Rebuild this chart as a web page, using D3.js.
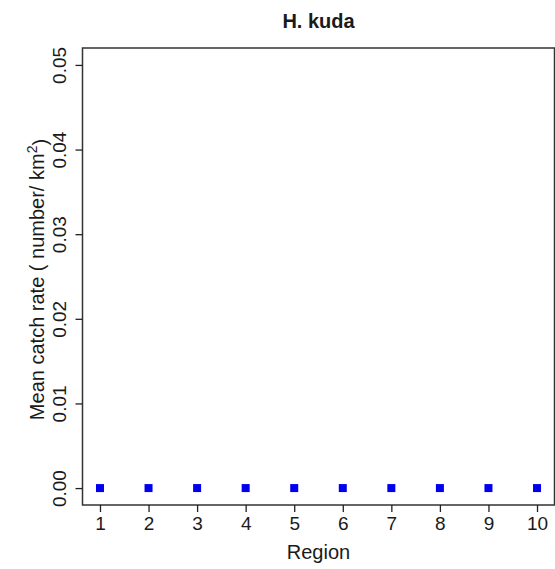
<!DOCTYPE html>
<meta charset="utf-8">
<style>
body { margin: 0; background: #fff; }
svg text { font-family: "Liberation Sans", Arial, sans-serif; fill: #1a1a1a; }
.axis path, .axis line { stroke: #222; stroke-width: 1.3px; }
</style>
<body>
<script src="https://cdn.jsdelivr.net/npm/d3@7"></script>
<script>

// data
var regions = [1, 2, 3, 4, 5, 6, 7, 8, 9, 10];
var catchRate = [0, 0, 0, 0, 0, 0, 0, 0, 0, 0];
var yTicks = [0, 0.01, 0.02, 0.03, 0.04, 0.05];
var title = "H. kuda";

var W = 555, H = 569;
var plotL = 82.5, plotR = 554.5, plotT = 48, plotB = 505;

// R style 4% padding on the ranges
var x = d3.scaleLinear().domain([0.64, 10.36]).range([plotL, plotR]);
var y = d3.scaleLinear().domain([-0.002, 0.052]).range([plotB, plotT]);

var svg = d3.select("body").append("svg")
    .attr("width", W)
    .attr("height", H);

// box round the plot
svg.append("rect")
    .attr("x", plotL).attr("y", plotT)
    .attr("width", plotR - plotL).attr("height", plotB - plotT)
    .attr("fill", "none")
    .attr("stroke", "#333")
    .attr("stroke-width", 1.5);

var xAxis = d3.axisBottom(x).tickValues(regions).tickSize(7).tickPadding(5).tickFormat(d3.format("d"));
var gx = svg.append("g")
    .attr("class", "axis")
    .attr("transform", "translate(0," + plotB + ")")
    .call(xAxis);
gx.select(".domain").remove();
gx.selectAll(".tick text").style("font-size", "19px").attr("dy", "0.71em");

var yAxis = d3.axisLeft(y).tickValues(yTicks).tickSize(7).tickFormat(d3.format(".2f"));
var gy = svg.append("g")
    .attr("class", "axis")
    .attr("transform", "translate(" + plotL + ",0)")
    .call(yAxis);
gy.select(".domain").remove();
gy.selectAll(".tick text")
    .style("font-size", "19px")
    .attr("x", null).attr("dy", null)
    .attr("text-anchor", "middle")
    .attr("transform", "translate(-17,0) rotate(-90)");

// points
svg.selectAll(".pt")
    .data(regions)
  .enter().append("rect")
    .attr("class", "pt")
    .attr("x", function(d) { return x(d) - 4; })
    .attr("y", function(d, i) { return y(catchRate[i]) - 4; })
    .attr("width", 8)
    .attr("height", 8)
    .attr("fill", "#0000ee");

// titles
svg.append("text")
    .attr("x", (plotL + plotR) / 2)
    .attr("y", 28)
    .attr("text-anchor", "middle")
    .style("font-size", "20px")
    .style("font-weight", "bold")
    .text(title);

svg.append("text")
    .attr("x", (plotL + plotR) / 2)
    .attr("y", 559)
    .attr("text-anchor", "middle")
    .style("font-size", "20px")
    .text("Region");

var yl = svg.append("text")
    .attr("transform", "translate(44," + ((plotT + plotB) / 2 + 3) + ") rotate(-90)")
    .attr("text-anchor", "middle")
    .style("font-size", "20px");
yl.append("tspan").text("Mean catch rate ( number/ km");
yl.append("tspan").attr("dy", "-0.5em").style("font-size", "14px").text("2");
yl.append("tspan").attr("dy", "0.5em").text(")");

</script>
